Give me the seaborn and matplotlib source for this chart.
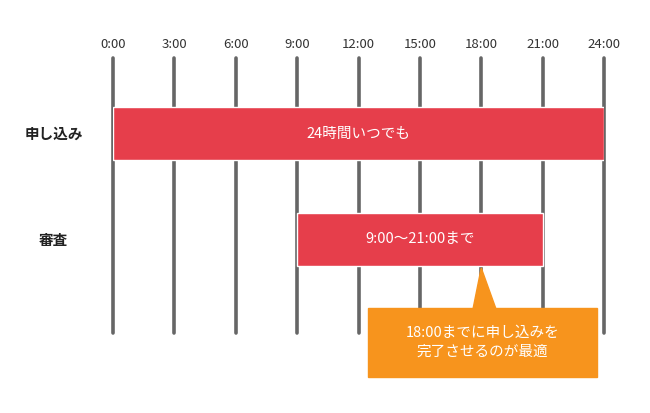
import matplotlib
matplotlib.use("Agg")
import matplotlib.pyplot as plt
import seaborn as sns
from matplotlib.patches import Polygon, Rectangle

sns.set_theme(style="white")
plt.rcParams['font.family'] = ['Noto Sans CJK JP', 'DejaVu Sans']

categories = ["申し込み", "審査"]
starts = [0, 9]
ends = [24, 21]
bar_labels = ["24時間いつでも", "9:00～21:00まで"]
tick_hours = [0, 3, 6, 9, 12, 15, 18, 21, 24]
tick_labels = ["0:00", "3:00", "6:00", "9:00", "12:00", "15:00", "18:00", "21:00", "24:00"]
callout_text = "18:00までに申し込みを\n完了させるのが最適"
callout_x = 18

W, H = 650, 413
fig = plt.figure(figsize=(6.5, 4.13), dpi=100)
x0, x1, ytop, ybot = 113, 604, 58, 333
ax = fig.add_axes([x0 / W, 1 - ybot / H, (x1 - x0) / W, (ybot - ytop) / H])
ax.set_xlim(0, 24)
ax.set_ylim(ybot, ytop)
ax.axis("off")
pxh = (x1 - x0) / 24

for h in tick_hours:
    ax.plot([h, h], [ytop, ybot], color="#666666", lw=2.6, zorder=1, clip_on=False)
    ax.text(h, 45, tick_labels[tick_hours.index(h)], ha="center", va="center",
            fontsize=9.5, color="#333333")

centers = [133.5, 239.5]
red = "#E63E4B"
for c, s, e, lab, cat in zip(centers, starts, ends, bar_labels, categories):
    ax.barh(c, e - s, left=s, height=53, color=red, zorder=2)
    ax.text((s + e) / 2, c, lab, ha="center", va="center", color="white", fontsize=10.5, zorder=3)
    ax.text(-2.9, c, cat, ha="center", va="center", fontsize=10.5, fontweight="bold", color="#222222")

orange = "#F7941D"
bx0 = (368 - x0) / pxh
bx1 = (597 - x0) / pxh
ax.add_patch(Rectangle((bx0, 308), bx1 - bx0, 69, color=orange, zorder=4, clip_on=False))
ax.add_patch(Polygon([((473 - x0) / pxh, 309), ((496 - x0) / pxh, 309), (callout_x, 268)],
                     closed=True, color=orange, zorder=4, clip_on=False))
ax.text((bx0 + bx1) / 2, 342.5, callout_text, ha="center", va="center", color="white",
        fontsize=10.5, linespacing=1.4, zorder=5, clip_on=False)

fig.savefig("out.png", dpi=100, facecolor="white")
